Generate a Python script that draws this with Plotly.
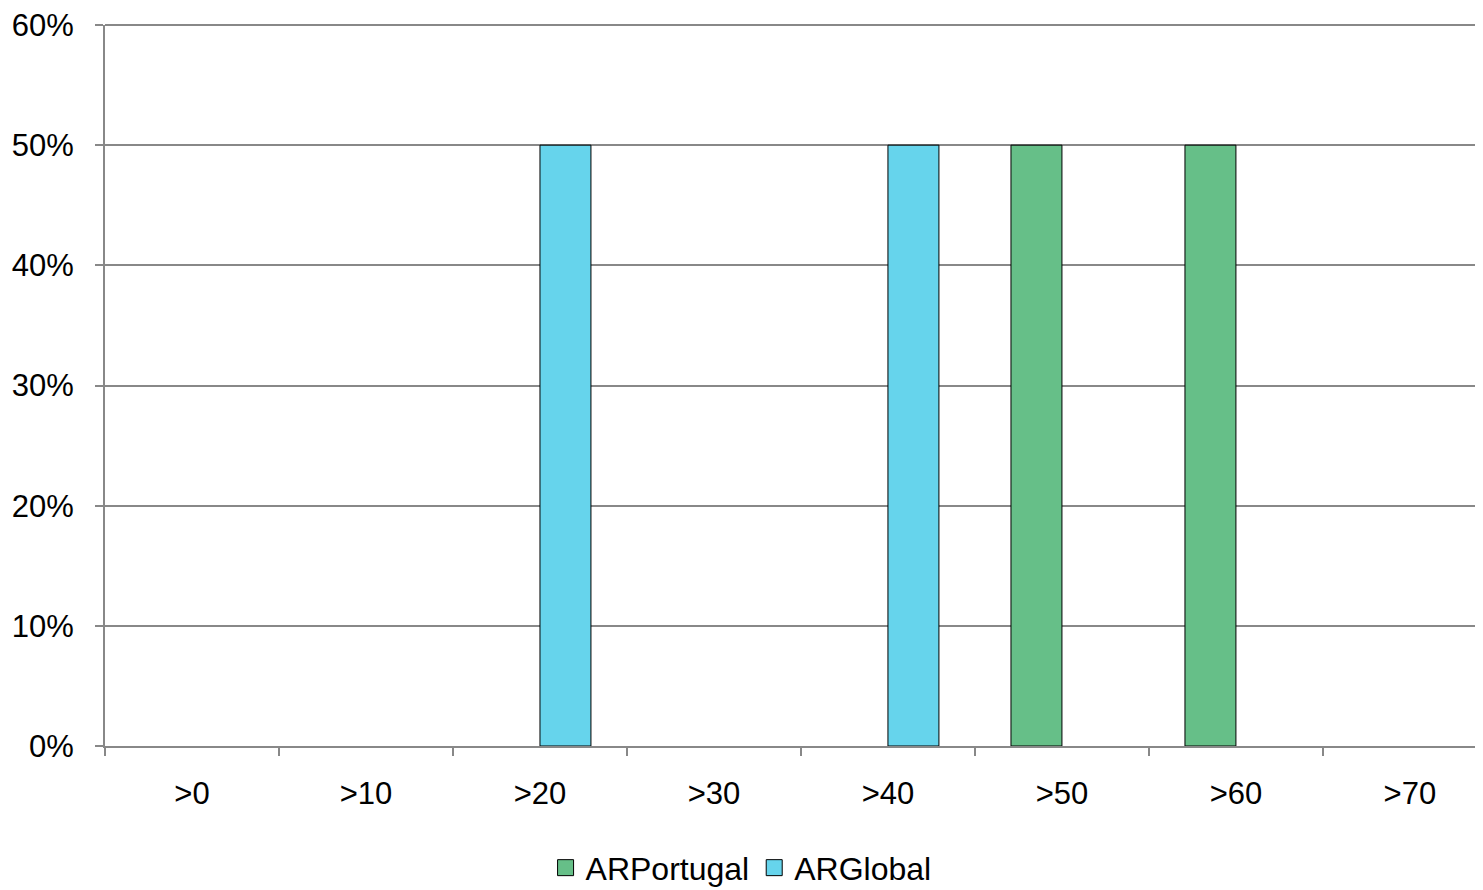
import plotly.graph_objects as go

categories = [">0", ">10", ">20", ">30", ">40", ">50", ">60", ">70"]
ar_portugal = [0, 0, 0, 0, 0, 0.5, 0.5, 0]
ar_global = [0, 0, 0.5, 0, 0.5, 0, 0, 0]

FONT = "Liberation Sans, Arial, sans-serif"
GRID = "#888888"
GREEN = "#66BF88"
BLUE = "#66D4EC"


def outline(values):
    return [1 if v > 0 else 0 for v in values]


fig = go.Figure()
fig.add_trace(go.Bar(name="ARPortugal", x=categories, y=ar_portugal, showlegend=False,
                     marker=dict(color=GREEN, line=dict(color="#000000", width=outline(ar_portugal)))))
fig.add_trace(go.Bar(name="ARGlobal", x=categories, y=ar_global, showlegend=False,
                     marker=dict(color=BLUE, line=dict(color="#000000", width=outline(ar_global)))))
# legend entries with larger square swatches
for name, col in [("ARPortugal", GREEN), ("ARGlobal", BLUE)]:
    fig.add_trace(go.Scatter(name=name, x=[None], y=[None], mode="markers",
                             marker=dict(symbol="square", size=17, color=col,
                                         line=dict(color="#000000", width=1))))

# top gridline (at the edge of the value range)
fig.add_shape(type="line", xref="paper", yref="paper", x0=0, x1=1, y0=1, y1=1,
              line=dict(color=GRID, width=2), layer="below")

fig.update_layout(
    width=1475, height=882,
    margin=dict(l=97, r=0, t=17, b=144, autoexpand=False),
    paper_bgcolor="white", plot_bgcolor="white",
    barmode="group", bargap=0.414, bargroupgap=0,
    font=dict(family=FONT, size=31, color="#000000"),
    showlegend=True,
    legend=dict(orientation="h", xref="container", yref="paper",
                x=0.497, xanchor="center", y=-0.169, yanchor="middle",
                font=dict(size=32), itemwidth=30, traceorder="normal"),
)
fig.update_xaxes(
    type="category", range=[-0.5, 7.42], automargin=False,
    showline=True, linecolor=GRID, linewidth=2,
    ticks="outside", tickson="boundaries", ticklen=8, tickwidth=2, tickcolor=GRID,
    showgrid=False, ticklabelstandoff=19,
    tickfont=dict(family=FONT, size=31),
)
fig.update_yaxes(
    range=[0, 0.6], tickvals=[0, 0.1, 0.2, 0.3, 0.4, 0.5, 0.6],
    tickformat=".0%", automargin=False, ticklabeloverflow="allow",
    showline=True, linecolor=GRID, linewidth=2,
    showgrid=True, gridcolor=GRID, gridwidth=2,
    ticks="outside", ticklen=8, tickwidth=2, tickcolor=GRID,
    ticklabelstandoff=15, zeroline=False,
    tickfont=dict(family=FONT, size=31),
)

fig.write_html("out.html")
